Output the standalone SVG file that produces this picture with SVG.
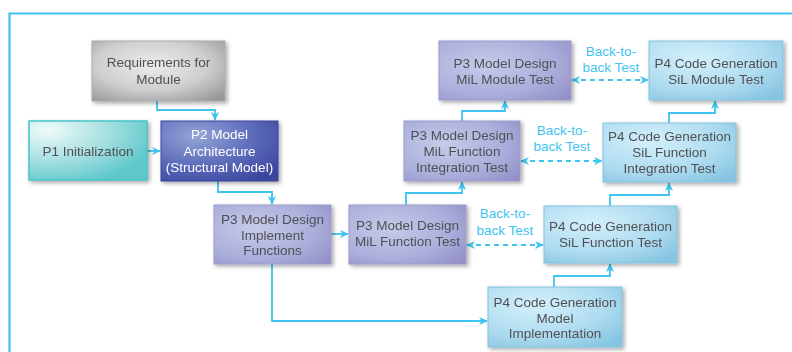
<svg xmlns="http://www.w3.org/2000/svg" width="792" height="352" viewBox="0 0 792 352">
  <defs>
    <style>
      .lbl { font-family: "Liberation Sans", Arial, sans-serif; font-size: 13.5px; fill: #505054; text-anchor: middle; }
      .lbl-w { fill: #ffffff; }
      .b2b { font-family: "Liberation Sans", Arial, sans-serif; font-size: 13.5px; fill: #3ec4f0; text-anchor: middle; }
      .wire { fill: none; stroke: #3ec4f0; stroke-width: 1.8; }
      .dash { fill: none; stroke: #3ec4f0; stroke-width: 1.8; stroke-dasharray: 5 4; }
      .box { filter: url(#shadow); }
    </style>
    <filter id="shadow" x="-10%" y="-10%" width="125%" height="130%">
      <feGaussianBlur in="SourceAlpha" stdDeviation="2.2"/>
      <feOffset dx="1.5" dy="2" result="b"/>
      <feComponentTransfer><feFuncA type="linear" slope="0.35"/></feComponentTransfer>
      <feMerge><feMergeNode/><feMergeNode in="SourceGraphic"/></feMerge>
    </filter>
    <radialGradient id="gGray" cx="0.45" cy="0.4" r="0.75">
      <stop offset="0" stop-color="#ececec"/>
      <stop offset="0.55" stop-color="#cfcfd0"/>
      <stop offset="1" stop-color="#97979a"/>
    </radialGradient>
    <radialGradient id="gTeal" cx="0.15" cy="0.15" r="0.95">
      <stop offset="0" stop-color="#effbfb"/>
      <stop offset="0.55" stop-color="#a6dfe0"/>
      <stop offset="1" stop-color="#5fc8cc"/>
    </radialGradient>
    <radialGradient id="gNavy" cx="0.3" cy="0.25" r="0.9">
      <stop offset="0" stop-color="#93a5d6"/>
      <stop offset="0.55" stop-color="#5d6bbb"/>
      <stop offset="1" stop-color="#3a449c"/>
    </radialGradient>
    <radialGradient id="gLav" cx="0.35" cy="0.4" r="0.85">
      <stop offset="0" stop-color="#c6cbea"/>
      <stop offset="0.6" stop-color="#aaaedb"/>
      <stop offset="1" stop-color="#918ec6"/>
    </radialGradient>
    <radialGradient id="gSky" cx="0.35" cy="0.3" r="0.85">
      <stop offset="0" stop-color="#d4f0fb"/>
      <stop offset="0.6" stop-color="#afdcf0"/>
      <stop offset="1" stop-color="#86c4e2"/>
    </radialGradient>
    <marker id="ah" viewBox="0 0 10 10" refX="9" refY="5" markerWidth="9" markerHeight="9" orient="auto-start-reverse" markerUnits="userSpaceOnUse">
      <path d="M0,0.5 L10,5 L0,9.5 L3,5 Z" fill="#3ec4f0"/>
    </marker>
  </defs>

  <rect width="792" height="352" fill="#ffffff"/>

  <!-- frame -->
  <path d="M9.5,352 V13.5 H792" fill="none" stroke="#3ec4f0" stroke-width="2.2"/>

  <!-- connectors -->
  <g id="connectors">
    <path class="wire" d="M157,101 V110 H215 V120" marker-end="url(#ah)"/>
    <path class="wire" d="M147,151 H160" marker-end="url(#ah)"/>
    <path class="wire" d="M218,181 V192 H272 V204" marker-end="url(#ah)"/>
    <path class="wire" d="M331,234 H348" marker-end="url(#ah)"/>
    <path class="wire" d="M272,264 V321 H487" marker-end="url(#ah)"/>
    <path class="wire" d="M554,287 V276 H610 V264" marker-end="url(#ah)"/>
    <path class="wire" d="M610,206 V195 H669 V183" marker-end="url(#ah)"/>
    <path class="wire" d="M406,205 V193 H462 V182" marker-end="url(#ah)"/>
    <path class="wire" d="M462,121 V111 H505 V101" marker-end="url(#ah)"/>
    <path class="wire" d="M669,123 V113 H715 V101" marker-end="url(#ah)"/>
    <path class="dash" d="M467,245 H543" marker-start="url(#ah)" marker-end="url(#ah)"/>
    <path class="dash" d="M521,161 H602" marker-start="url(#ah)" marker-end="url(#ah)"/>
    <path class="dash" d="M572,80 H648" marker-start="url(#ah)" marker-end="url(#ah)"/>
    <text class="b2b" x="611" y="56">Back-to-</text>
    <text class="b2b" x="611" y="72">back Test</text>
    <text class="b2b" x="562" y="135">Back-to-</text>
    <text class="b2b" x="562" y="151">back Test</text>
    <text class="b2b" x="505" y="218">Back-to-</text>
    <text class="b2b" x="505" y="235">back Test</text>
  </g>

  <g id="requirements" class="box">
    <rect x="92" y="41" width="133" height="60" fill="url(#gGray)" stroke="#a9a9ac" stroke-width="1"/>
    <text class="lbl" x="158.5" y="67">Requirements for</text>
    <text class="lbl" x="158.5" y="84">Module</text>
  </g>

  <g id="p1-init" class="box">
    <rect x="29" y="121" width="118" height="59" fill="url(#gTeal)" stroke="#45c4c8" stroke-width="1.5"/>
    <text class="lbl" x="88" y="156">P1 Initialization</text>
  </g>

  <g id="p2-arch" class="box">
    <rect x="161" y="121" width="117" height="60" fill="url(#gNavy)" stroke="#3a449c" stroke-width="1"/>
    <text class="lbl lbl-w" x="219.5" y="139">P2 Model</text>
    <text class="lbl lbl-w" x="219.5" y="156">Architecture</text>
    <text class="lbl lbl-w" x="219.5" y="172">(Structural Model)</text>
  </g>

  <g id="p3-impl" class="box">
    <rect x="214" y="205" width="117" height="59" fill="url(#gLav)" stroke="#9c9acb" stroke-width="1"/>
    <text class="lbl" x="272.5" y="224">P3 Model Design</text>
    <text class="lbl" x="272.5" y="240">Implement</text>
    <text class="lbl" x="272.5" y="255">Functions</text>
  </g>

  <g id="p3-mil-func" class="box">
    <rect x="349" y="205" width="117" height="59" fill="url(#gLav)" stroke="#9c9acb" stroke-width="1"/>
    <text class="lbl" x="407.5" y="230">P3 Model Design</text>
    <text class="lbl" x="407.5" y="246">MiL Function Test</text>
  </g>

  <g id="p3-mil-integ" class="box">
    <rect x="404" y="121" width="116" height="60" fill="url(#gLav)" stroke="#9c9acb" stroke-width="1"/>
    <text class="lbl" x="462" y="140">P3 Model Design</text>
    <text class="lbl" x="462" y="156">MiL Function</text>
    <text class="lbl" x="462" y="172">Integration Test</text>
  </g>

  <g id="p3-mil-module" class="box">
    <rect x="439" y="41" width="132" height="59" fill="url(#gLav)" stroke="#9c9acb" stroke-width="1"/>
    <text class="lbl" x="505" y="68">P3 Model Design</text>
    <text class="lbl" x="505" y="84">MiL Module Test</text>
  </g>

  <g id="p4-model-impl" class="box">
    <rect x="488" y="287" width="134" height="60" fill="url(#gSky)" stroke="#86c2df" stroke-width="1"/>
    <text class="lbl" x="555" y="307">P4 Code Generation</text>
    <text class="lbl" x="555" y="323">Model</text>
    <text class="lbl" x="555" y="338">Implementation</text>
  </g>

  <g id="p4-sil-func" class="box">
    <rect x="544" y="206" width="133" height="57" fill="url(#gSky)" stroke="#86c2df" stroke-width="1"/>
    <text class="lbl" x="610.5" y="231">P4 Code Generation</text>
    <text class="lbl" x="610.5" y="247">SiL Function Test</text>
  </g>

  <g id="p4-sil-integ" class="box">
    <rect x="603" y="123" width="133" height="59" fill="url(#gSky)" stroke="#86c2df" stroke-width="1"/>
    <text class="lbl" x="669.5" y="141">P4 Code Generation</text>
    <text class="lbl" x="669.5" y="157">SiL Function</text>
    <text class="lbl" x="669.5" y="173">Integration Test</text>
  </g>

  <g id="p4-sil-module" class="box">
    <rect x="649" y="41" width="134" height="59" fill="url(#gSky)" stroke="#86c2df" stroke-width="1"/>
    <text class="lbl" x="716" y="68">P4 Code Generation</text>
    <text class="lbl" x="716" y="84">SiL Module Test</text>
  </g>
</svg>
